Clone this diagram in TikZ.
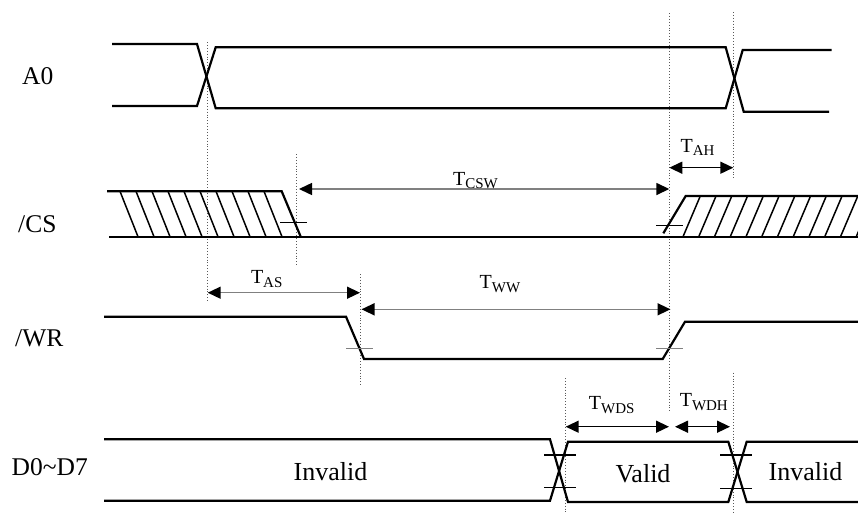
\documentclass[tikz,border=0pt]{standalone}
\usepackage{fontspec}
\setmainfont{Liberation Serif}
\usetikzlibrary{arrows.meta}
\newcommand\Tlab[1]{T\raisebox{-3.5pt}{\fontsize{15}{17}\selectfont #1}}
\begin{document}
\begin{tikzpicture}[x=1pt,y=-1pt,
  sig/.style={line width=2.2pt, line join=miter},
  hatchline/.style={line width=1.5pt},
  guide/.style={dotted, line width=0.9pt, black!65},
  tickm/.style={line width=1.1pt},
  tickg/.style={line width=1.3pt, gray},
  dimarrow/.style={line width=1.5pt, {Triangle[length=13pt,width=12pt,color=black]}-{Triangle[length=13pt,width=12pt,color=black]}},
  greydim/.style={dimarrow, draw=gray},
  lbl/.style={font=\fontsize{25.5}{28}\selectfont, anchor=base west, inner sep=0pt},
  vlbl/.style={font=\fontsize{26}{28}\selectfont, anchor=base, inner sep=0pt},
  tlbl/.style={font=\fontsize{20}{22}\selectfont, anchor=base, inner sep=0pt}
]
\useasboundingbox (0,0) rectangle (858,512);

% signal names
\node[lbl] (nA0) at (22,84) {A0};
\node[lbl] (nCS) at (18,232) {/CS};
\node[lbl] (nWR) at (15,346.5) {/WR};
\node[lbl] (nD) at (11.5,475) {D0\char"7E D7};

% guide lines
\draw[guide] (207.7,42) coordinate (g1a) -- (207.7,302) coordinate (g1b);
\draw[guide] (296,154) coordinate (g2a) -- (296,265) coordinate (g2b);
\draw[guide] (360,274) coordinate (g3a) -- (360,385) coordinate (g3b);
\draw[guide] (669.3,13) coordinate (g4a) -- (669.3,413) coordinate (g4b);
\draw[guide] (733.3,12) coordinate (g5a) -- (733.3,180) coordinate (g5b);
\draw[guide] (565.7,378) coordinate (g6a) -- (565.7,512) coordinate (g6b);
\draw[guide] (733.3,372.7) coordinate (g7a) -- (733.3,512) coordinate (g7b);

% A0
\draw[sig] (112,44) -- (197,44) -- (215.7,108.3) -- (725.7,108.3) -- (742.7,50) -- (831.7,50);
\draw[sig] (112,106) -- (197,106) -- (215.7,47.3) -- (725.7,47.3) -- (743.7,111.7) -- (829,111.7);

% /CS
\draw[sig] (107,191.3) -- (281.7,191.3) -- (300.7,236.7);
\draw[sig] (109,236.7) -- (858,236.7);
\foreach \k in {0,...,9}{
  \draw[hatchline] (120+16*\k,191.3) -- (138+16*\k,236.7);
}
\draw[sig] (663.3,233.3) -- (685.7,196) -- (858,196);
\begin{scope}
  \clip (680,190) rectangle (858,240);
  \foreach \k in {0,...,11}{
    \draw[hatchline] (683.3+15.75*\k,236) -- (700.3+15.75*\k,196);
  }
\end{scope}
\draw[tickm] (280,222.7) -- (306.7,222.7);
\draw[tickm] (656,225.7) -- (682.7,225.7);

% /WR
\draw[sig] (104,316.7) -- (346,316.7) -- (364,359) -- (662.7,359) -- (685,321.7) -- (858,321.7);
\draw[tickg] (346,348.7) -- (373,348.7);
\draw[tickg] (656,348.7) -- (682.7,348.7);

% D0~D7
\draw[sig] (104,439.3) -- (550,439.3) -- (568,502) -- (728.3,502) -- (746.7,441.7) -- (858,441.7);
\draw[sig] (104,500.7) -- (550,500.7) -- (568,441.7) -- (728.3,441.7) -- (746.7,502) -- (858,502);
\draw[tickm] (544,455) -- (576,455);
\draw[tickm] (544,487.3) -- (576,487.3);
\draw[tickm] (720,455) -- (751.7,455);
\draw[tickm] (720,488.5) -- (751.7,488.5);

\node[vlbl] (inv1) at (330.5,480.7) {Invalid};
\node[vlbl] (val) at (643,482.7) {Valid};
\node[vlbl] (inv2) at (805.5,480.7) {Invalid};

% timing arrows
\coordinate (csw1) at (299,189);   \coordinate (csw2) at (669.3,189);
\coordinate (ah1) at (669.3,167.7); \coordinate (ah2) at (733.3,167.7);
\coordinate (as1) at (207.7,292.7); \coordinate (as2) at (360,292.7);
\coordinate (ww1) at (361.5,309.3); \coordinate (ww2) at (670.5,309.3);
\coordinate (wds1) at (565.7,426.7); \coordinate (wds2) at (669,426.7);
\coordinate (wdh1) at (675,426.7); \coordinate (wdh2) at (730,426.7);

\draw[greydim] (csw1) -- (csw2);
\draw[dimarrow] (ah1) -- (ah2);
\draw[greydim] (as1) -- (as2);
\draw[greydim] (ww1) -- (ww2);
\draw[dimarrow] (wds1) -- (wds2);
\draw[dimarrow] (wdh1) -- (wdh2);

\node[tlbl] (lcsw) at (475.5,185) {\Tlab{CSW}};
\node[tlbl] (lah) at (697.5,152) {\Tlab{AH}};
\node[tlbl] (las) at (266.7,283.5) {\Tlab{AS}};
\node[tlbl] (lww) at (500,288.7) {\Tlab{WW}};
\node[tlbl] (lwds) at (611.7,409.5) {\Tlab{WDS}};
\node[tlbl] (lwdh) at (703.8,406.5) {\Tlab{WDH}};
\end{tikzpicture}
\end{document}
